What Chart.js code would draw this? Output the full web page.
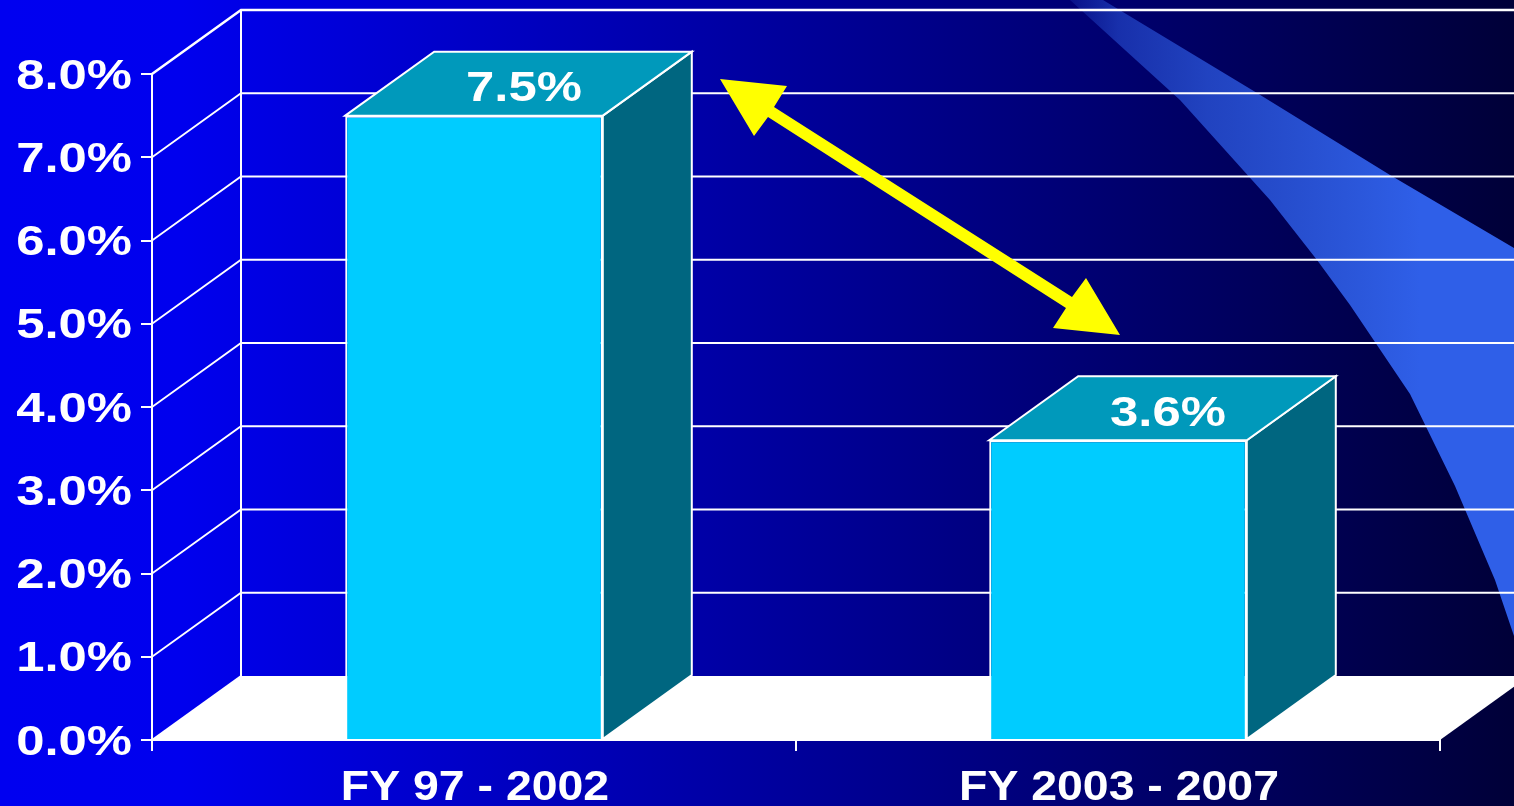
<!DOCTYPE html>
<html lang="en">
<head>
    <meta charset="UTF-8">
    <title>FY growth chart</title>
    <style>
        body {
            margin: 0;
            padding: 0;
            overflow: hidden;
            background: #000033;
        }
        #myChart {
            display: block;
        }
    </style>
    <script src="https://cdn.jsdelivr.net/npm/chart.js"></script>
</head>
<body>
    <canvas id="myChart" width="1514" height="806"></canvas>

    <script>
        const categories = ['FY 97 - 2002', 'FY 2003 - 2007'];
        const growthValues = [7.5, 3.6];
        const valueLabels = ['7.5%', '3.6%'];
        const yTickLabels = ['0.0%', '1.0%', '2.0%', '3.0%', '4.0%', '5.0%', '6.0%', '7.0%', '8.0%'];

        // depth of the fake 3D box
        const depthX = 89;
        const depthY = -64;
        const labelFont = 'bold 42px "Liberation Sans", Arial, sans-serif';

        function polygon(ctx, points) {
            ctx.beginPath();
            ctx.moveTo(points[0][0], points[0][1]);
            for (let i = 1; i < points.length; i++) {
                ctx.lineTo(points[i][0], points[i][1]);
            }
            ctx.closePath();
        }

        // text a bit wider than the font, like the stretched slide
        function wideText(ctx, text, x, y, stretch) {
            ctx.save();
            ctx.translate(x, y);
            ctx.scale(stretch, 1);
            ctx.fillText(text, 0, 0);
            ctx.restore();
        }

        const backdropPlugin = {
            id: 'backdrop',
            beforeDraw(chart) {
                const ctx = chart.ctx;
                const w = chart.width;
                const h = chart.height;
                const area = chart.chartArea;
                const yScale = chart.scales.y;

                const bg = ctx.createLinearGradient(0, 0, w, 0);
                bg.addColorStop(0, '#0000f0');
                bg.addColorStop(0.12, '#0000ee');
                bg.addColorStop(1, '#000038');
                ctx.fillStyle = bg;
                ctx.fillRect(0, 0, w, h);

                // light swoosh in the top right corner
                const swoosh = ctx.createLinearGradient(1065, 0, 1420, 0);
                swoosh.addColorStop(0, 'rgba(47, 95, 232, 0.15)');
                swoosh.addColorStop(0.15, 'rgba(47, 95, 232, 0.5)');
                swoosh.addColorStop(0.4, 'rgba(47, 95, 232, 0.7)');
                swoosh.addColorStop(1, 'rgba(47, 95, 232, 1)');
                ctx.fillStyle = swoosh;
                polygon(ctx, [[1070, 0], [1103, 0], [1257, 93], [1390, 175], [1514, 248],
                    [1514, 636], [1495, 580], [1455, 486], [1410, 394], [1350, 305],
                    [1317, 260], [1270, 200], [1180, 100]]);
                ctx.fill();

                // floor
                ctx.fillStyle = '#ffffff';
                polygon(ctx, [[area.left, area.bottom], [area.left + depthX, area.bottom + depthY],
                    [area.right + depthX, area.bottom + depthY], [area.right, area.bottom]]);
                ctx.fill();

                // side wall and back wall lines
                ctx.strokeStyle = '#ffffff';
                yScale.ticks.forEach((tick, i) => {
                    const y = yScale.getPixelForTick(i);
                    ctx.lineWidth = i === yScale.ticks.length - 1 ? 2.5 : 1.8;
                    ctx.beginPath();
                    ctx.moveTo(area.left, y);
                    ctx.lineTo(area.left + depthX, y + depthY);
                    if (i > 0) {
                        ctx.lineTo(w, y + depthY);
                    }
                    ctx.stroke();
                });
                ctx.lineWidth = 2;
                ctx.beginPath();
                ctx.moveTo(area.left + depthX, area.top + depthY);
                ctx.lineTo(area.left + depthX, area.bottom + depthY);
                ctx.stroke();
            }
        };

        const boxPlugin = {
            id: 'boxes',
            afterDatasetsDraw(chart) {
                const ctx = chart.ctx;
                const bars = chart.getDatasetMeta(0).data;

                bars.forEach((bar, i) => {
                    const left = bar.x - bar.width / 2;
                    const right = bar.x + bar.width / 2;
                    const top = bar.y;
                    const bottom = bar.base;

                    ctx.lineWidth = 2;
                    ctx.strokeStyle = '#ffffff';

                    ctx.fillStyle = '#006680';
                    polygon(ctx, [[right, top], [right + depthX, top + depthY],
                        [right + depthX, bottom + depthY], [right, bottom]]);
                    ctx.fill();
                    ctx.stroke();

                    ctx.fillStyle = '#0099bb';
                    polygon(ctx, [[left, top], [left + depthX, top + depthY],
                        [right + depthX, top + depthY], [right, top]]);
                    ctx.fill();
                    ctx.stroke();

                    ctx.fillStyle = '#ffffff';
                    ctx.font = labelFont;
                    ctx.textAlign = 'center';
                    ctx.textBaseline = 'middle';
                    wideText(ctx, valueLabels[i], bar.x + 50, top - 26, 1.21);
                });
            },
            afterDraw(chart) {
                const ctx = chart.ctx;
                const xScale = chart.scales.x;
                const yScale = chart.scales.y;

                // double arrow between the two bars
                ctx.fillStyle = '#ffff00';
                polygon(ctx, [[720, 79], [787, 86], [774, 107], [1072, 297], [1086, 278],
                    [1120, 335], [1053, 328], [1066, 308], [768, 117], [754, 136]]);
                ctx.fill();

                ctx.fillStyle = '#ffffff';
                ctx.font = labelFont;
                ctx.textBaseline = 'middle';

                ctx.textAlign = 'right';
                yScale.ticks.forEach((tick, i) => {
                    wideText(ctx, tick.label, 132, yScale.getPixelForTick(i) + 3, 1.21);
                });

                ctx.textAlign = 'center';
                categories.forEach((name, i) => {
                    wideText(ctx, name, xScale.getPixelForTick(i) + 1, 788, 1.105);
                });
            }
        };

        const chart = new Chart(document.getElementById('myChart').getContext('2d'), {
            type: 'bar',
            data: {
                labels: categories,
                datasets: [{
                    data: growthValues,
                    backgroundColor: '#00ccff',
                    borderColor: '#ffffff',
                    borderWidth: 2,
                    barPercentage: 0.4,
                    categoryPercentage: 1
                }]
            },
            options: {
                responsive: false,
                animation: false,
                layout: {
                    padding: { top: 74, right: 74, bottom: 0, left: 0 }
                },
                plugins: {
                    legend: { display: false },
                    title: { display: false },
                    tooltip: { enabled: false }
                },
                scales: {
                    x: {
                        grid: {
                            drawOnChartArea: false,
                            color: '#ffffff',
                            lineWidth: 2,
                            tickLength: 11
                        },
                        border: { color: '#ffffff', width: 2 },
                        ticks: { display: false },
                        afterFit(scale) {
                            scale.height = 66;
                        }
                    },
                    y: {
                        min: 0,
                        max: 8,
                        grid: {
                            drawOnChartArea: false,
                            color: '#ffffff',
                            lineWidth: 2,
                            tickLength: 11
                        },
                        border: { color: '#ffffff', width: 2 },
                        ticks: {
                            display: false,
                            stepSize: 1,
                            callback: function (value, index) {
                                return yTickLabels[index];
                            }
                        },
                        afterFit(scale) {
                            scale.width = 152;
                        }
                    }
                }
            },
            plugins: [backdropPlugin, boxPlugin]
        });
    </script>
</body>
</html>
